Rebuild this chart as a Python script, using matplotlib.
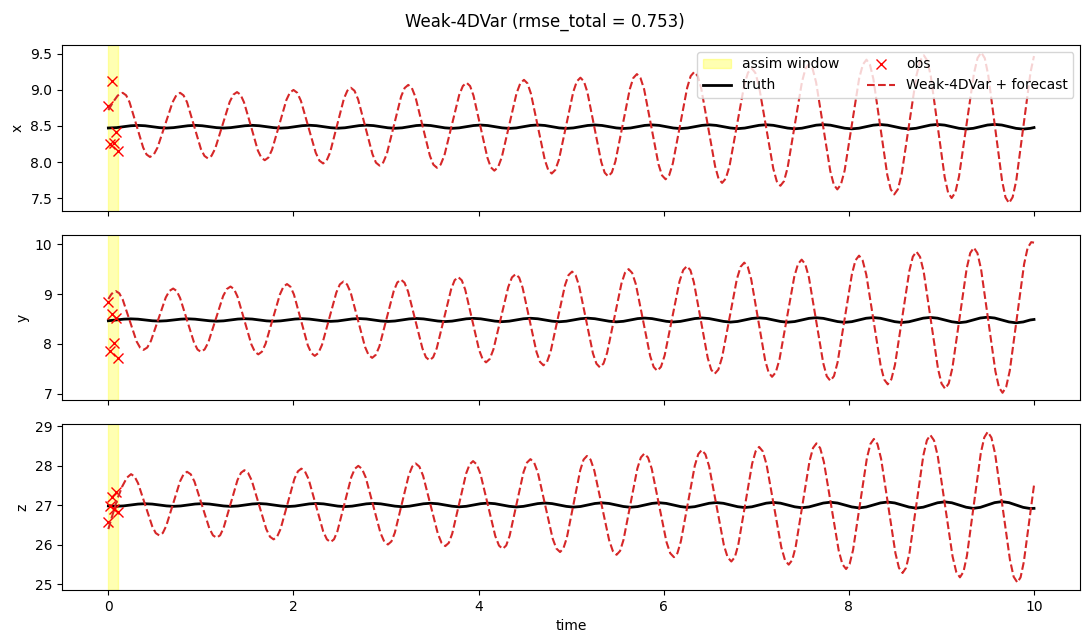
import matplotlib.pyplot as plt

title = 'Weak-4DVar (rmse_total = 0.753)'
assim_window = [0.0, 0.1]

# observations inside the assimilation window
t_obs = [0.0, 0.02, 0.04, 0.06, 0.08, 0.10]
obs_x = [8.78, 8.25, 9.12, 8.27, 8.42, 8.15]
obs_y = [8.85, 7.85, 8.59, 8.02, 8.52, 7.71]
obs_z = [26.57, 26.99, 27.20, 26.91, 27.33, 26.82]

# truth (one row = one oscillation)
t_truth = [0.0, 0.088, 0.165, 0.242, 0.320, 0.397, 0.474, 0.551,
           0.628, 0.705, 0.782, 0.859, 0.937, 1.014, 1.091, 1.168,
           1.245, 1.322, 1.399, 1.476, 1.554, 1.631, 1.708, 1.785,
           1.862, 1.939, 2.016, 2.093, 2.171, 2.248, 2.325, 2.402,
           2.479, 2.556, 2.633, 2.710, 2.788, 2.865, 2.942, 3.019,
           3.096, 3.173, 3.250, 3.327, 3.405, 3.482, 3.559, 3.636,
           3.713, 3.790, 3.867, 3.944, 4.022, 4.099, 4.176, 4.253,
           4.330, 4.407, 4.484, 4.561, 4.639, 4.716, 4.793, 4.870,
           4.947, 5.024, 5.101, 5.178, 5.256, 5.333, 5.410, 5.487,
           5.564, 5.641, 5.718, 5.795, 5.873, 5.950, 6.027, 6.104,
           6.181, 6.258, 6.335, 6.412, 6.490, 6.567, 6.644, 6.721,
           6.798, 6.875, 6.952, 7.029, 7.107, 7.184, 7.261, 7.338,
           7.415, 7.492, 7.569, 7.646, 7.724, 7.801, 7.878, 7.955,
           8.032, 8.109, 8.186, 8.263, 8.341, 8.418, 8.495, 8.572,
           8.649, 8.726, 8.803, 8.880, 8.958, 9.035, 9.112, 9.189,
           9.266, 9.343, 9.420, 9.497, 9.575, 9.652, 9.729, 9.806,
           9.883, 9.960, 10.0]

truth_x = [8.472, 8.477, 8.49, 8.503, 8.508, 8.503, 8.49, 8.477,
           8.471, 8.477, 8.49, 8.503, 8.509, 8.503, 8.49, 8.477,
           8.471, 8.477, 8.49, 8.503, 8.509, 8.503, 8.49, 8.477,
           8.470, 8.476, 8.49, 8.504, 8.510, 8.504, 8.49, 8.476,
           8.469, 8.475, 8.49, 8.505, 8.511, 8.505, 8.49, 8.475,
           8.468, 8.474, 8.49, 8.506, 8.512, 8.506, 8.49, 8.474,
           8.467, 8.474, 8.49, 8.506, 8.513, 8.506, 8.49, 8.474,
           8.466, 8.473, 8.49, 8.507, 8.514, 8.507, 8.49, 8.473,
           8.466, 8.473, 8.49, 8.507, 8.514, 8.507, 8.49, 8.473,
           8.465, 8.472, 8.49, 8.508, 8.515, 8.508, 8.49, 8.472,
           8.464, 8.472, 8.49, 8.508, 8.516, 8.508, 8.49, 8.472,
           8.463, 8.471, 8.49, 8.509, 8.517, 8.509, 8.49, 8.471,
           8.461, 8.469, 8.49, 8.511, 8.519, 8.511, 8.49, 8.469,
           8.460, 8.469, 8.49, 8.511, 8.520, 8.511, 8.49, 8.469,
           8.459, 8.468, 8.49, 8.512, 8.521, 8.512, 8.49, 8.468,
           8.458, 8.467, 8.49, 8.513, 8.522, 8.513, 8.49, 8.467,
           8.457, 8.467, 8.478]

truth_y = [8.464, 8.48, 8.496, 8.502, 8.496, 8.48, 8.464, 8.457,
           8.464, 8.48, 8.496, 8.503, 8.496, 8.48, 8.464, 8.455,
           8.462, 8.48, 8.498, 8.505, 8.498, 8.48, 8.462, 8.454,
           8.462, 8.48, 8.498, 8.506, 8.498, 8.48, 8.462, 8.452,
           8.460, 8.48, 8.500, 8.508, 8.500, 8.48, 8.460, 8.450,
           8.459, 8.48, 8.501, 8.510, 8.501, 8.48, 8.459, 8.448,
           8.457, 8.48, 8.503, 8.512, 8.503, 8.48, 8.457, 8.446,
           8.456, 8.48, 8.504, 8.514, 8.504, 8.48, 8.456, 8.444,
           8.455, 8.48, 8.505, 8.516, 8.505, 8.48, 8.455, 8.442,
           8.453, 8.48, 8.507, 8.518, 8.507, 8.48, 8.453, 8.440,
           8.452, 8.48, 8.508, 8.520, 8.508, 8.48, 8.452, 8.437,
           8.450, 8.48, 8.510, 8.523, 8.510, 8.48, 8.450, 8.435,
           8.448, 8.48, 8.512, 8.525, 8.512, 8.48, 8.448, 8.432,
           8.446, 8.48, 8.514, 8.528, 8.514, 8.48, 8.446, 8.429,
           8.444, 8.48, 8.516, 8.531, 8.516, 8.48, 8.444, 8.425,
           8.441, 8.48, 8.519, 8.535, 8.519, 8.48, 8.441, 8.423,
           8.440, 8.48, 8.49]

truth_z = [26.987,
           26.978, 26.987, 27.01, 27.033, 27.042, 27.033, 27.01, 26.987,
           26.976, 26.986, 27.01, 27.034, 27.044, 27.034, 27.01, 26.986,
           26.974, 26.985, 27.01, 27.035, 27.046, 27.035, 27.01, 26.985,
           26.971, 26.982, 27.01, 27.038, 27.049, 27.038, 27.01, 26.982,
           26.969, 26.981, 27.01, 27.039, 27.051, 27.039, 27.01, 26.981,
           26.966, 26.979, 27.01, 27.041, 27.054, 27.041, 27.01, 26.979,
           26.963, 26.977, 27.01, 27.043, 27.057, 27.043, 27.01, 26.977,
           26.960, 26.975, 27.01, 27.045, 27.060, 27.045, 27.01, 26.975,
           26.956, 26.972, 27.01, 27.048, 27.064, 27.048, 27.01, 26.972,
           26.953, 26.970, 27.01, 27.050, 27.067, 27.050, 27.01, 26.970,
           26.949, 26.967, 27.01, 27.053, 27.071, 27.053, 27.01, 26.967,
           26.945, 26.964, 27.01, 27.056, 27.075, 27.056, 27.01, 26.964,
           26.940, 26.961, 27.01, 27.059, 27.080, 27.059, 27.01, 26.961,
           26.936, 26.958, 27.01, 27.062, 27.084, 27.062, 27.01, 26.958,
           26.931, 26.954, 27.01, 27.066, 27.089, 27.066, 27.01, 26.954,
           26.925, 26.950, 27.01, 27.070, 27.095, 27.070, 27.01, 26.950,
           26.920, 26.925]

# Weak-4DVar analysis + forecast (one row = half an oscillation)
t_fc_x = [0.0, 0.05, 0.10, 0.13,
          0.155, 0.192, 0.229, 0.303, 0.376, 0.413,
          0.45, 0.491, 0.531, 0.613, 0.694, 0.734,
          0.775, 0.812, 0.85, 0.925, 1.0, 1.038,
          1.075, 1.114, 1.154, 1.233, 1.311, 1.351,
          1.39, 1.428, 1.465, 1.54, 1.615, 1.652,
          1.69, 1.729, 1.768, 1.845, 1.923, 1.961,
          2.0, 2.04, 2.08, 2.16, 2.24, 2.28,
          2.32, 2.358, 2.395, 2.47, 2.545, 2.582,
          2.62, 2.659, 2.698, 2.775, 2.853, 2.891,
          2.93, 2.969, 3.008, 3.085, 3.163, 3.201,
          3.24, 3.279, 3.318, 3.395, 3.473, 3.511,
          3.55, 3.59, 3.63, 3.71, 3.79, 3.83,
          3.87, 3.908, 3.945, 4.02, 4.095, 4.132,
          4.17, 4.21, 4.25, 4.33, 4.41, 4.45,
          4.49, 4.528, 4.565, 4.64, 4.715, 4.752,
          4.79, 4.829, 4.868, 4.945, 5.023, 5.061,
          5.10, 5.138, 5.175, 5.25, 5.325, 5.362,
          5.40, 5.439, 5.478, 5.555, 5.633, 5.671,
          5.71, 5.749, 5.788, 5.865, 5.943, 5.981,
          6.02, 6.059, 6.098, 6.175, 6.253, 6.291,
          6.33, 6.368, 6.405, 6.48, 6.555, 6.592,
          6.63, 6.67, 6.71, 6.79, 6.87, 6.91,
          6.95, 6.989, 7.028, 7.105, 7.183, 7.221,
          7.26, 7.299, 7.338, 7.415, 7.493, 7.531,
          7.57, 7.608, 7.646, 7.723, 7.799, 7.837,
          7.875, 7.914, 7.954, 8.033, 8.111, 8.151,
          8.19, 8.228, 8.265, 8.34, 8.415, 8.452,
          8.49, 8.53, 8.57, 8.65, 8.73, 8.77,
          8.81, 8.848, 8.885, 8.96, 9.035, 9.072,
          9.11, 9.15, 9.19, 9.27, 9.35, 9.39,
          9.43, 9.468, 9.505, 9.58, 9.655, 9.692,
          9.73, 9.769, 9.808, 9.885, 9.963, 10.0]
fc_x = [8.72, 8.83, 8.92, 8.95,
        8.96, 8.926, 8.83, 8.515, 8.20, 8.104,
        8.07, 8.104, 8.20, 8.515, 8.83, 8.926,
        8.96, 8.925, 8.83, 8.505, 8.18, 8.085,
        8.05, 8.085, 8.185, 8.51, 8.835, 8.935,
        8.97, 8.934, 8.83, 8.50, 8.16, 8.061,
        8.025, 8.062, 8.17, 8.51, 8.86, 8.963,
        9.00, 8.961, 8.85, 8.49, 8.13, 8.019,
        7.98, 8.02, 8.13, 8.505, 8.88, 8.99,
        9.03, 8.989, 8.87, 8.49, 8.11, 7.991,
        7.95, 7.993, 8.11, 8.51, 8.91, 9.027,
        9.07, 9.026, 8.90, 8.495, 8.09, 7.964,
        7.92, 7.965, 8.09, 8.51, 8.93, 9.055,
        9.10, 9.054, 8.92, 8.49, 8.06, 7.926,
        7.88, 7.928, 8.065, 8.51, 8.955, 9.092,
        9.14, 9.091, 8.95, 8.49, 8.03, 7.889,
        7.84, 7.891, 8.035, 8.505, 8.975, 9.119,
        9.17, 9.118, 8.97, 8.485, 8.00, 7.852,
        7.80, 7.854, 8.01, 8.51, 9.01, 9.166,
        9.22, 9.165, 9.01, 8.49, 7.97, 7.815,
        7.76, 7.817, 7.98, 8.505, 9.03, 9.193,
        9.25, 9.191, 9.02, 8.48, 7.94, 7.769,
        7.71, 7.77, 7.94, 8.505, 9.07, 9.24,
        9.30, 9.238, 9.06, 8.485, 7.91, 7.732,
        7.67, 7.734, 7.92, 8.515, 9.11, 9.296,
        9.36, 9.294, 9.105, 8.49, 7.875, 7.686,
        7.62, 7.688, 7.88, 8.52, 9.16, 9.352,
        9.42, 9.349, 9.15, 8.485, 7.82, 7.621,
        7.55, 7.623, 7.83, 8.515, 9.20, 9.407,
        9.48, 9.405, 9.19, 8.49, 7.79, 7.575,
        7.50, 7.577, 7.80, 8.51, 9.22, 9.443,
        9.52, 9.441, 9.21, 8.475, 7.74, 7.509,
        7.43, 7.511, 7.74, 8.495, 9.25, 9.47]

t_fc_y = [0.0, 0.03, 0.055,
          0.08, 0.118, 0.155, 0.23, 0.305, 0.343,
          0.38, 0.42, 0.46, 0.54, 0.62, 0.66,
          0.70, 0.738, 0.775, 0.85, 0.925, 0.963,
          1.00, 1.04, 1.08, 1.16, 1.24, 1.28,
          1.32, 1.358, 1.395, 1.47, 1.545, 1.583,
          1.62, 1.659, 1.698, 1.775, 1.853, 1.891,
          1.93, 1.968, 2.005, 2.08, 2.155, 2.193,
          2.23, 2.269, 2.308, 2.385, 2.463, 2.501,
          2.54, 2.579, 2.618, 2.695, 2.773, 2.811,
          2.85, 2.889, 2.928, 3.005, 3.083, 3.121,
          3.16, 3.199, 3.238, 3.315, 3.393, 3.431,
          3.47, 3.509, 3.548, 3.625, 3.703, 3.741,
          3.78, 3.818, 3.855, 3.93, 4.005, 4.043,
          4.08, 4.12, 4.16, 4.24, 4.32, 4.36,
          4.40, 4.438, 4.475, 4.55, 4.625, 4.663,
          4.70, 4.739, 4.778, 4.855, 4.933, 4.971,
          5.01, 5.048, 5.085, 5.16, 5.235, 5.273,
          5.31, 5.349, 5.388, 5.465, 5.543, 5.581,
          5.62, 5.659, 5.698, 5.775, 5.853, 5.891,
          5.93, 5.97, 6.01, 6.09, 6.17, 6.21,
          6.25, 6.288, 6.325, 6.40, 6.475, 6.513,
          6.55, 6.59, 6.63, 6.71, 6.79, 6.83,
          6.87, 6.908, 6.945, 7.02, 7.095, 7.133,
          7.17, 7.21, 7.25, 7.33, 7.41, 7.45,
          7.49, 7.529, 7.568, 7.645, 7.723, 7.761,
          7.80, 7.839, 7.878, 7.955, 8.033, 8.071,
          8.11, 8.149, 8.188, 8.265, 8.343, 8.381,
          8.42, 8.459, 8.498, 8.575, 8.653, 8.691,
          8.73, 8.769, 8.808, 8.885, 8.963, 9.001,
          9.04, 9.079, 9.118, 9.195, 9.273, 9.311,
          9.35, 9.389, 9.428, 9.505, 9.583, 9.621,
          9.66, 9.699, 9.738, 9.815, 9.893, 9.931,
          9.97, 10.0]
fc_y = [8.90, 8.99, 9.04,
        9.06, 9.015, 8.89, 8.47, 8.05, 7.925,
        7.88, 7.927, 8.06, 8.495, 8.93, 9.063,
        9.11, 9.062, 8.92, 8.475, 8.03, 7.888,
        7.84, 7.89, 8.03, 8.495, 8.96, 9.10,
        9.15, 9.098, 8.95, 8.47, 7.99, 7.842,
        7.79, 7.844, 8.00, 8.495, 8.99, 9.146,
        9.20, 9.145, 8.99, 8.48, 7.97, 7.815,
        7.76, 7.817, 7.98, 8.505, 9.03, 9.193,
        9.25, 9.192, 9.03, 8.485, 7.94, 7.778,
        7.72, 7.78, 7.95, 8.505, 9.06, 9.23,
        9.29, 9.228, 9.05, 8.48, 7.91, 7.732,
        7.67, 7.733, 7.915, 8.505, 9.095, 9.277,
        9.34, 9.275, 9.09, 8.485, 7.88, 7.695,
        7.63, 7.697, 7.89, 8.515, 9.14, 9.333,
        9.40, 9.33, 9.13, 8.485, 7.84, 7.64,
        7.57, 7.641, 7.845, 8.51, 9.175, 9.379,
        9.45, 9.377, 9.17, 8.49, 7.81, 7.603,
        7.53, 7.605, 7.82, 8.515, 9.21, 9.425,
        9.50, 9.422, 9.20, 8.48, 7.76, 7.538,
        7.46, 7.54, 7.77, 8.51, 9.25, 9.48,
        9.56, 9.478, 9.24, 8.48, 7.72, 7.482,
        7.40, 7.485, 7.73, 8.515, 9.30, 9.545,
        9.63, 9.543, 9.295, 8.485, 7.675, 7.427,
        7.34, 7.429, 7.685, 8.515, 9.345, 9.601,
        9.69, 9.598, 9.335, 8.475, 7.615, 7.352,
        7.26, 7.355, 7.63, 8.515, 9.40, 9.675,
        9.77, 9.672, 9.39, 8.48, 7.57, 7.288,
        7.19, 7.291, 7.58, 8.52, 9.46, 9.749,
        9.85, 9.745, 9.45, 8.475, 7.50, 7.205,
        7.10, 7.208, 7.515, 8.515, 9.515, 9.822,
        9.93, 9.819, 9.50, 8.475, 7.45, 7.131,
        7.02, 7.135, 7.46, 8.53, 9.60, 9.925,
        10.04, 10.03]

t_fc_z = [0.0, 0.05, 0.10, 0.15, 0.20,
          0.245, 0.283, 0.321, 0.398, 0.474, 0.512,
          0.55, 0.588, 0.625, 0.70, 0.775, 0.813,
          0.85, 0.89, 0.93, 1.01, 1.09, 1.13,
          1.17, 1.208, 1.245, 1.32, 1.395, 1.433,
          1.47, 1.509, 1.549, 1.628, 1.706, 1.746,
          1.785, 1.823, 1.86, 1.935, 2.01, 2.048,
          2.085, 2.124, 2.164, 2.243, 2.321, 2.361,
          2.40, 2.438, 2.475, 2.55, 2.625, 2.663,
          2.70, 2.74, 2.78, 2.86, 2.94, 2.98,
          3.02, 3.058, 3.095, 3.17, 3.245, 3.283,
          3.32, 3.36, 3.40, 3.48, 3.56, 3.60,
          3.64, 3.678, 3.715, 3.79, 3.865, 3.903,
          3.94, 3.98, 4.02, 4.10, 4.18, 4.22,
          4.26, 4.298, 4.335, 4.41, 4.485, 4.523,
          4.56, 4.60, 4.64, 4.72, 4.80, 4.84,
          4.88, 4.916, 4.953, 5.025, 5.098, 5.134,
          5.17, 5.21, 5.25, 5.33, 5.41, 5.45,
          5.49, 5.528, 5.565, 5.64, 5.715, 5.753,
          5.79, 5.83, 5.87, 5.95, 6.03, 6.07,
          6.11, 6.148, 6.185, 6.26, 6.335, 6.373,
          6.41, 6.45, 6.49, 6.57, 6.65, 6.69,
          6.73, 6.768, 6.805, 6.88, 6.955, 6.993,
          7.03, 7.07, 7.11, 7.19, 7.27, 7.31,
          7.35, 7.388, 7.425, 7.50, 7.575, 7.613,
          7.65, 7.69, 7.73, 7.81, 7.89, 7.93,
          7.97, 8.008, 8.045, 8.12, 8.195, 8.233,
          8.27, 8.309, 8.348, 8.425, 8.503, 8.541,
          8.58, 8.618, 8.655, 8.73, 8.805, 8.843,
          8.88, 8.92, 8.96, 9.04, 9.12, 9.16,
          9.20, 9.238, 9.275, 9.35, 9.425, 9.463,
          9.50, 9.54, 9.58, 9.66, 9.74, 9.78,
          9.82, 9.855, 9.89, 9.95, 10.0]
fc_z = [26.40, 26.80, 27.18, 27.48, 27.70,
        27.79, 27.731, 27.56, 27.015, 26.47, 26.299,
        26.24, 26.301, 26.48, 27.045, 27.61, 27.789,
        27.85, 27.787, 27.605, 27.015, 26.425, 26.243,
        26.18, 26.245, 26.43, 27.035, 27.64, 27.825,
        27.89, 27.823, 27.63, 27.015, 26.40, 26.207,
        26.14, 26.208, 26.40, 27.035, 27.67, 27.862,
        27.93, 27.859, 27.66, 27.00, 26.34, 26.141,
        26.07, 26.143, 26.35, 27.035, 27.72, 27.927,
        28.00, 27.924, 27.71, 27.005, 26.30, 26.086,
        26.01, 26.088, 26.31, 27.035, 27.76, 27.982,
        28.06, 27.981, 27.75, 27.015, 26.28, 26.049,
        25.97, 26.052, 26.285, 27.045, 27.805, 28.038,
        28.12, 28.036, 27.795, 27.01, 26.225, 25.984,
        25.90, 25.986, 26.23, 27.035, 27.84, 28.084,
        28.17, 28.081, 27.83, 26.995, 26.16, 25.909,
        25.82, 25.912, 26.18, 27.035, 27.89, 28.158,
        28.25, 28.155, 27.88, 27.00, 26.12, 25.845,
        25.75, 25.847, 26.125, 27.03, 27.935, 28.213,
        28.31, 28.21, 27.93, 27.00, 26.07, 25.79,
        25.69, 25.793, 26.09, 27.045, 28.00, 28.297,
        28.40, 28.293, 27.99, 26.99, 25.99, 25.687,
        25.58, 25.69, 26.00, 27.03, 28.055, 28.37,
        28.48, 28.367, 28.04, 26.99, 25.94, 25.613,
        25.50, 25.617, 25.95, 27.035, 28.12, 28.453,
        28.57, 28.449, 28.10, 26.98, 25.86, 25.511,
        25.39, 25.515, 25.87, 27.035, 28.20, 28.555,
        28.68, 28.551, 28.18, 26.985, 25.79, 25.419,
        25.29, 25.423, 25.80, 27.035, 28.27, 28.647,
        28.78, 28.643, 28.25, 26.98, 25.71, 25.317,
        25.18, 25.32, 25.72, 27.02, 28.32, 28.72,
        28.86, 28.715, 28.305, 26.965, 25.625, 25.195,
        25.05, 25.18, 25.57, 26.62, 27.51]

panels = [
    ('x', truth_x, obs_x, t_fc_x, fc_x),
    ('y', truth_y, obs_y, t_fc_y, fc_y),
    ('z', truth_z, obs_z, t_fc_z, fc_z),
]

fig, axes = plt.subplots(3, 1, figsize=(10.89, 6.42), dpi=100, sharex=True)

for ax, (name, tv, ov, ft, fv) in zip(axes, panels):
    ax.axvspan(assim_window[0], assim_window[1], color='yellow', alpha=0.3,
               label='assim window')
    ax.plot(t_truth, tv, color='black', lw=2, label='truth')
    ax.plot(t_obs, ov, 'x', color='red', ms=7, label='obs')
    ax.plot(ft, fv, '--', color='tab:red', lw=1.5, label='Weak-4DVar + forecast')
    ax.set_ylabel(name)

axes[0].legend(loc='upper right', ncol=2)
axes[-1].set_xlabel('time')
fig.suptitle(title)
fig.subplots_adjust(left=0.057, right=0.992, top=0.930, bottom=0.081, hspace=0.145)

fig.savefig('out.png')
